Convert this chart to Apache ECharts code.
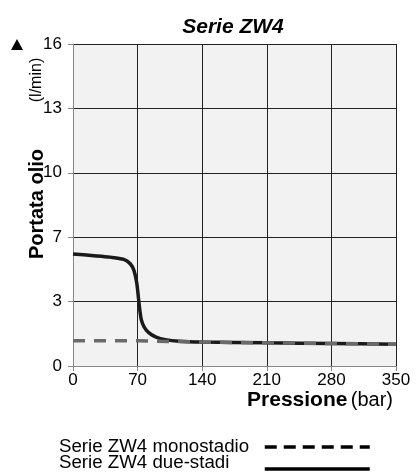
<!DOCTYPE html>
<html>
<head>
<meta charset="utf-8">
<script src="https://cdn.jsdelivr.net/npm/echarts@6/dist/echarts.min.js"></script>
<style>
  html, body { margin: 0; padding: 0; background: #fff; }
  #chart { width: 417px; height: 474px; }
</style>
</head>
<body>
<div id="chart"></div>
<script>
var FONT = 'Liberation Sans, Arial, Helvetica, sans-serif';

// tick labels printed on the y axis (gridlines are evenly spaced)
var yTickLabels = ['0', '3', '7', '10', '13', '16'];

// legend names
var nameMono = 'Serie ZW4 monostadio';
var nameDue = 'Serie ZW4 due-stadi';

// serie due-stadi : [pressione bar, portata]
var dueStadi = [
  [0, 5.57], [20, 5.49], [40, 5.41], [55, 5.30], [62, 5.08], [66, 4.75],
  [69, 4.15], [71, 3.35], [72.5, 2.75], [74, 2.3], [77, 1.95], [82, 1.66],
  [90, 1.44], [100, 1.31], [115, 1.23], [140, 1.19], [210, 1.15],
  [280, 1.12], [350, 1.08]
];

// serie monostadio
var monostadio = [
  [0, 1.26], [70, 1.25], [140, 1.19], [210, 1.15], [280, 1.12], [350, 1.08]
];

var chart = echarts.init(document.getElementById('chart'));

var hidden = { color: 'rgba(0,0,0,0)', borderColor: 'rgba(0,0,0,0)', borderWidth: 0 };

// legend keys only (names are written as text next to them)
var legendBase = {
  orient: 'vertical',
  left: 263,
  padding: 0,
  itemWidth: 105, itemHeight: 14,
  selectedMode: false,
  formatter: function () { return ''; },
  textStyle: { fontSize: 8 }
};

var option = {
  animation: false,
  textStyle: { fontFamily: FONT },
  title: {
    text: 'Serie ZW4',
    left: 228, top: 12,
    textAlign: 'center',
    textStyle: { fontSize: 21, fontWeight: 'bold', fontStyle: 'italic', color: '#000', fontFamily: FONT }
  },
  grid: { left: 73, right: 21, top: 44, bottom: 108, show: true, backgroundColor: '#f2f2f2', borderWidth: 0 },
  legend: [
    Object.assign({}, legendBase, {
      top: 440,
      data: [{ name: nameMono, itemStyle: hidden, lineStyle: { color: '#000', width: 3.5, type: [12, 7] } }]
    }),
    Object.assign({}, legendBase, {
      top: 462,
      data: [{ name: nameDue, itemStyle: hidden, lineStyle: { color: '#000', width: 3.5 } }]
    })
  ],
  xAxis: {
    type: 'value', min: 0, max: 350, interval: 70,
    axisLine: { show: true, lineStyle: { color: '#888', width: 1 } },
    axisTick: { show: true, length: 5, lineStyle: { color: '#888' } },
    axisLabel: { fontSize: 17, color: '#000', margin: 6, fontFamily: FONT },
    splitLine: { show: true, lineStyle: { color: '#222', width: 1 } }
  },
  yAxis: {
    type: 'value', min: 0, max: 16, interval: 3.2,
    axisLine: { show: true, lineStyle: { color: '#888', width: 1 } },
    axisTick: { show: true, length: 5, lineStyle: { color: '#888' } },
    axisLabel: {
      fontSize: 17, color: '#000', margin: 11, fontFamily: FONT,
      formatter: function (v) { return yTickLabels[Math.round(v / 3.2)]; }
    },
    splitLine: { show: true, lineStyle: { color: '#222', width: 1 } }
  },
  graphic: [
    {
      type: 'text',
      x: 37, y: 204, rotation: Math.PI / 2,
      style: {
        text: 'Portata olio',
        align: 'center', verticalAlign: 'middle',
        fontSize: 20, fontWeight: 'bold', fill: '#000', fontFamily: FONT
      }
    },
    {
      type: 'text',
      x: 37, y: 80, rotation: Math.PI / 2,
      style: {
        text: '(l/min)',
        align: 'center', verticalAlign: 'middle',
        fontSize: 16, fill: '#000', fontFamily: FONT
      }
    },
    {
      type: 'polygon',
      shape: { points: [[11, 50], [23, 50], [17, 39]] },
      style: { fill: '#000' }
    },
    {
      type: 'text',
      x: 393, y: 400,
      style: {
        text: '{b|Pressione} {n|(bar)}',
        align: 'right', verticalAlign: 'middle',
        rich: {
          b: { fontSize: 21, fontWeight: 'bold', fill: '#000', fontFamily: FONT },
          n: { fontSize: 20, fill: '#000', fontFamily: FONT }
        }
      }
    },
    {
      type: 'text',
      x: 59, y: 447,
      style: { text: nameMono, align: 'left', verticalAlign: 'middle', fontSize: 18.7, fill: '#000', fontFamily: FONT }
    },
    {
      type: 'text',
      x: 59, y: 463,
      style: { text: nameDue, align: 'left', verticalAlign: 'middle', fontSize: 18.7, fill: '#000', fontFamily: FONT }
    }
  ],
  series: [
    {
      name: nameDue,
      type: 'line', data: dueStadi, smooth: 0.3,
      symbol: 'none', z: 2,
      lineStyle: { color: '#1a1a1a', width: 3.5 },
      itemStyle: { color: '#1a1a1a' }
    },
    {
      name: nameMono,
      type: 'line', data: monostadio,
      symbol: 'none', z: 3,
      lineStyle: { color: '#6a6a6a', width: 3.5, type: [12, 9] },
      itemStyle: { color: '#6a6a6a' }
    }
  ]
};

chart.setOption(option);
</script>
</body>
</html>
